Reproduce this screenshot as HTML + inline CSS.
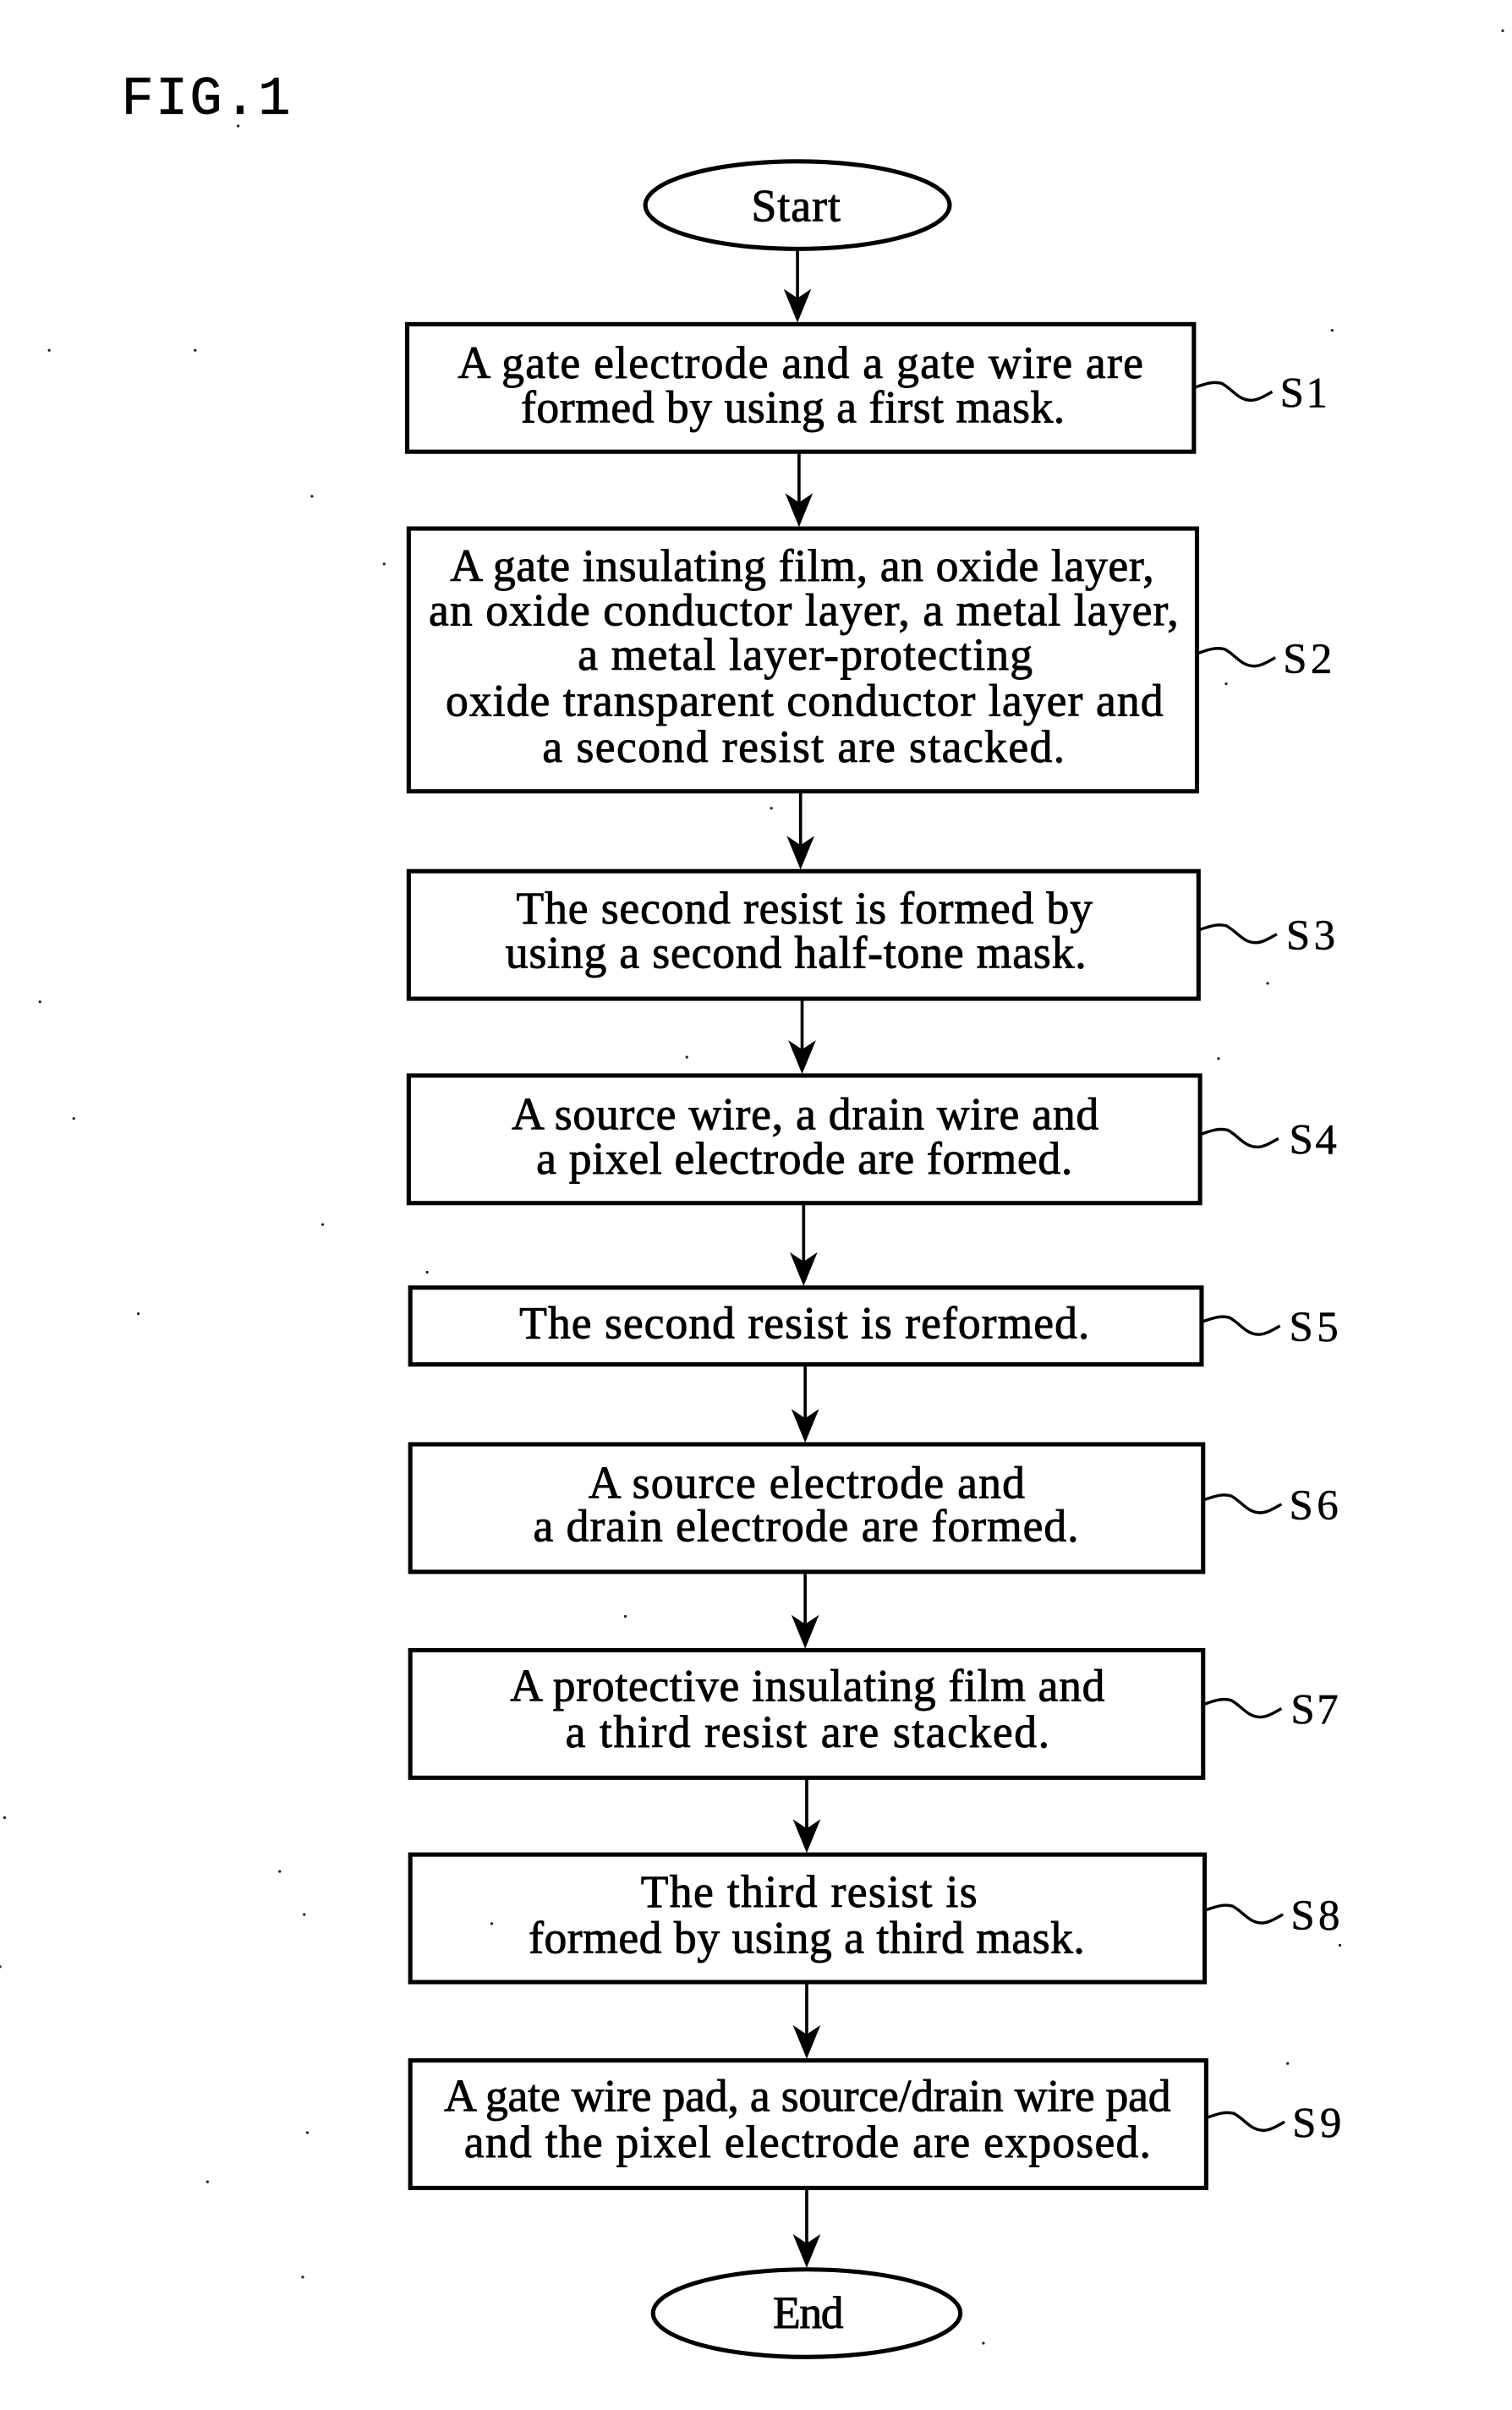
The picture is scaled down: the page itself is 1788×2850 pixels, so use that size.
<!DOCTYPE html>
<html><head><meta charset="utf-8"><style>
html,body{margin:0;padding:0;background:#fff}
svg{display:block}
.t{font-family:"Liberation Serif",serif;font-size:29.5px;fill:#000;stroke:#000;stroke-width:.5}
.l{font-family:"Liberation Serif",serif;font-size:28px;fill:#000;stroke:#000;stroke-width:.3}
.b{fill:#fff;stroke:#000;stroke-width:2.8}
.a{stroke:#000;stroke-width:2;fill:none}
.s{stroke:#000;stroke-width:1.9;fill:none}
.h{fill:#000}
</style></head><body>
<svg xmlns="http://www.w3.org/2000/svg" width="1788" height="2850" viewBox="0 0 984 1568.500">

<text x="79" y="74" style="font-family:'Liberation Mono',monospace;font-size:35px;stroke:#000;stroke-width:.4" textLength="110" lengthAdjust="spacing">FIG.1</text>

<ellipse cx="519" cy="133.500" rx="99" ry="28.500" class="b"/>
<ellipse cx="525" cy="1505.500" rx="100" ry="28.500" class="b"/>

<rect class="b" x="265" y="211" width="512" height="83"/>
<rect class="b" x="266" y="344" width="513" height="171"/>
<rect class="b" x="266" y="567" width="514" height="83"/>
<rect class="b" x="266" y="700" width="515" height="83"/>
<rect class="b" x="267" y="838" width="515" height="50"/>
<rect class="b" x="267" y="940" width="516" height="83"/>
<rect class="b" x="267" y="1074" width="516" height="83"/>
<rect class="b" x="267" y="1207" width="517" height="83"/>
<rect class="b" x="267" y="1341" width="518" height="83"/>

<g class="a">
<line x1="519" y1="162" x2="519" y2="200"/>
<line x1="520" y1="294" x2="520" y2="333"/>
<line x1="521" y1="515" x2="521" y2="556"/>
<line x1="522" y1="650" x2="522" y2="689"/>
<line x1="523" y1="783" x2="523" y2="827"/>
<line x1="524" y1="888" x2="524" y2="929"/>
<line x1="524" y1="1023" x2="524" y2="1063"/>
<line x1="525" y1="1157" x2="525" y2="1196"/>
<line x1="525" y1="1290" x2="525" y2="1330"/>
<line x1="525" y1="1424" x2="525" y2="1466"/>
</g>
<g class="h">
<polygon points="519,210 510,188 519,194 528,188"/>
<polygon points="520,343 511,321 520,327 529,321"/>
<polygon points="521,566 512,544 521,550 530,544"/>
<polygon points="522,699 513,677 522,683 531,677"/>
<polygon points="523,837 514,815 523,821 532,815"/>
<polygon points="524,939 515,917 524,923 533,917"/>
<polygon points="524,1073 515,1051 524,1057 533,1051"/>
<polygon points="525,1206 516,1184 525,1190 534,1184"/>
<polygon points="525,1340 516,1318 525,1324 534,1318"/>
<polygon points="525,1476 516,1454 525,1460 534,1454"/>
</g>

<g class="s">
<path transform="translate(778,252)" d="M0,0 C6,-2 11,-4 17,-2.500 C24,1 28,9 37,8.500 C42,8 46,5 50,3"/>
<path transform="translate(780,425)" d="M0,0 C6,-2 11,-4 17,-2.500 C24,1 28,9 37,8.500 C42,8 46,5 50,3"/>
<path transform="translate(781,605)" d="M0,0 C6,-2 11,-4 17,-2.500 C24,1 28,9 37,8.500 C42,8 46,5 50,3"/>
<path transform="translate(782,738)" d="M0,0 C6,-2 11,-4 17,-2.500 C24,1 28,9 37,8.500 C42,8 46,5 50,3"/>
<path transform="translate(783,860)" d="M0,0 C6,-2 11,-4 17,-2.500 C24,1 28,9 37,8.500 C42,8 46,5 50,3"/>
<path transform="translate(784,976)" d="M0,0 C6,-2 11,-4 17,-2.500 C24,1 28,9 37,8.500 C42,8 46,5 50,3"/>
<path transform="translate(784,1109)" d="M0,0 C6,-2 11,-4 17,-2.500 C24,1 28,9 37,8.500 C42,8 46,5 50,3"/>
<path transform="translate(785,1243)" d="M0,0 C6,-2 11,-4 17,-2.500 C24,1 28,9 37,8.500 C42,8 46,5 50,3"/>
<path transform="translate(786,1378)" d="M0,0 C6,-2 11,-4 17,-2.500 C24,1 28,9 37,8.500 C42,8 46,5 50,3"/>
</g>

<g class="t">
<text x="489" y="144" textLength="58" lengthAdjust="spacing">Start</text>
<text x="298" y="246" textLength="446" lengthAdjust="spacing">A gate electrode and a gate wire are</text>
<text x="339" y="275" textLength="354" lengthAdjust="spacing">formed by using a first mask.</text>
<text x="293" y="378" textLength="458" lengthAdjust="spacing">A gate insulating film, an oxide layer,</text>
<text x="279" y="407" textLength="488" lengthAdjust="spacing">an oxide conductor layer, a metal layer,</text>
<text x="376" y="436" textLength="296" lengthAdjust="spacing">a metal layer-protecting</text>
<text x="290" y="466" textLength="467" lengthAdjust="spacing">oxide transparent conductor layer and</text>
<text x="353" y="496" textLength="340" lengthAdjust="spacing">a second resist are stacked.</text>
<text x="336" y="601" textLength="375" lengthAdjust="spacing">The second resist is formed by</text>
<text x="329" y="630" textLength="378" lengthAdjust="spacing">using a second half-tone mask.</text>
<text x="333" y="735" textLength="382" lengthAdjust="spacing">A source wire, a drain wire and</text>
<text x="349" y="764" textLength="349" lengthAdjust="spacing">a pixel electrode are formed.</text>
<text x="338" y="871" textLength="371" lengthAdjust="spacing">The second resist is reformed.</text>
<text x="383" y="975" textLength="284" lengthAdjust="spacing">A source electrode and</text>
<text x="347" y="1003" textLength="355" lengthAdjust="spacing">a drain electrode are formed.</text>
<text x="332" y="1107" textLength="387" lengthAdjust="spacing">A protective insulating film and</text>
<text x="368" y="1137" textLength="315" lengthAdjust="spacing">a third resist are stacked.</text>
<text x="417" y="1241" textLength="219" lengthAdjust="spacing">The third resist is</text>
<text x="344" y="1271" textLength="362" lengthAdjust="spacing">formed by using a third mask.</text>
<text x="289" y="1374" textLength="473" lengthAdjust="spacing">A gate wire pad, a source/drain wire pad</text>
<text x="302" y="1404" textLength="447" lengthAdjust="spacing">and the pixel electrode are exposed.</text>
<text x="503" y="1515" textLength="46" lengthAdjust="spacing">End</text>
</g>

<g class="l">
<text x="833" y="265" textLength="31" lengthAdjust="spacing">S1</text>
<text x="835" y="438" textLength="32" lengthAdjust="spacing">S2</text>
<text x="837" y="618" textLength="32" lengthAdjust="spacing">S3</text>
<text x="839" y="751" textLength="31" lengthAdjust="spacing">S4</text>
<text x="839" y="873" textLength="32" lengthAdjust="spacing">S5</text>
<text x="839" y="989" textLength="32" lengthAdjust="spacing">S6</text>
<text x="840" y="1122" textLength="31" lengthAdjust="spacing">S7</text>
<text x="840" y="1256" textLength="32" lengthAdjust="spacing">S8</text>
<text x="841" y="1391" textLength="32" lengthAdjust="spacing">S9</text>
</g>

<g fill="#222">
<circle cx="978" cy="20" r=".9"/><circle cx="203" cy="323" r=".9"/><circle cx="250" cy="367" r=".9"/>
<circle cx="32" cy="228" r=".9"/><circle cx="127" cy="228" r=".9"/><circle cx="26" cy="652" r=".9"/>
<circle cx="48" cy="728" r=".9"/><circle cx="90" cy="855" r=".9"/><circle cx="210" cy="797" r=".9"/>
<circle cx="182" cy="1218" r=".9"/><circle cx="198" cy="1246" r=".9"/><circle cx="3" cy="1183" r=".9"/>
<circle cx="0" cy="1280" r=".9"/><circle cx="200" cy="1388" r=".9"/><circle cx="135" cy="1420" r=".9"/>
<circle cx="197" cy="1482" r=".9"/><circle cx="640" cy="1525" r=".9"/><circle cx="793" cy="689" r=".9"/>
<circle cx="838" cy="1343" r=".9"/><circle cx="867" cy="215" r=".9"/><circle cx="825" cy="640" r=".9"/>
<circle cx="798" cy="445" r=".9"/><circle cx="155" cy="82" r=".9"/><circle cx="502" cy="526" r=".9"/>
<circle cx="320" cy="1252" r=".9"/><circle cx="407" cy="1052" r=".9"/><circle cx="278" cy="828" r=".9"/>
<circle cx="872" cy="1266" r=".9"/><circle cx="447" cy="688" r=".9"/>
</g>
</svg>
</body></html>
